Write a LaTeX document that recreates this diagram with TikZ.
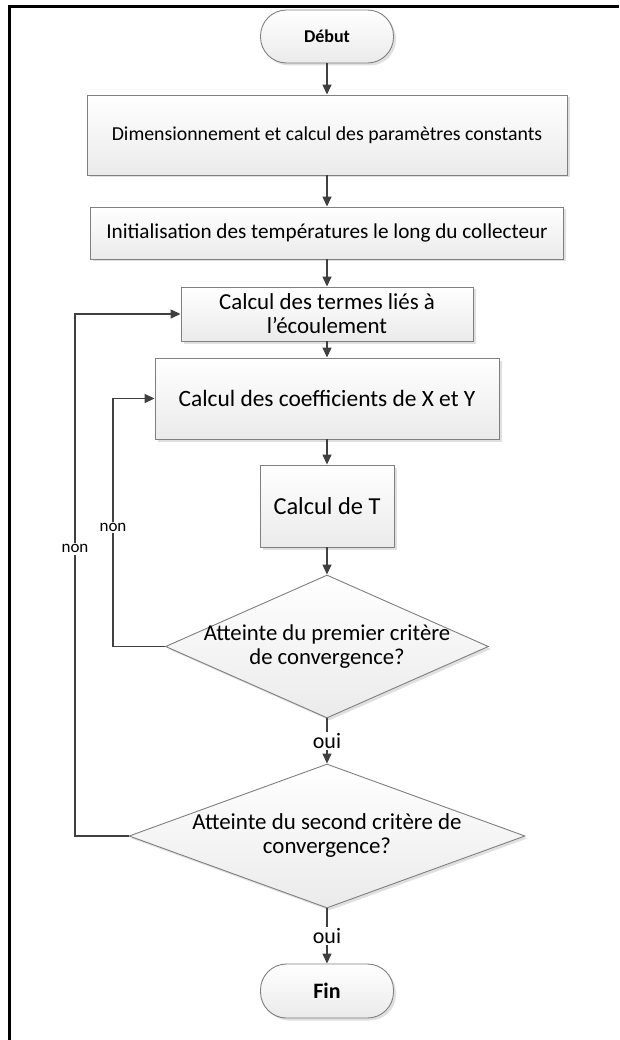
\documentclass[tikz,border=0pt]{standalone}
\usepackage{fontspec}
\setmainfont{Carlito}
\usetikzlibrary{arrows.meta,shapes.geometric,shadows}
\definecolor{lin}{HTML}{404040}
\definecolor{brd}{HTML}{7F7F7F}
\newcommand{\fsz}[1]{\fontsize{#1}{24}\selectfont}
\begin{document}
\begin{tikzpicture}[x=1pt,y=-1pt,
  base/.style={draw=brd,line width=0.9pt,top color=white,bottom color=black!8,
     drop shadow={shadow xshift=2.5pt,shadow yshift=-2.5pt,fill=black!12,opacity=1},
     align=center,inner sep=0pt},
  procbox/.style={base,rectangle},
  termbox/.style={base,rectangle,rounded corners=26pt},
  decbox/.style={base,diamond},
  dtext/.style={align=center,inner sep=0pt},
  arr/.style={draw=lin,line width=1.4pt,-{Triangle[length=10pt,width=9pt]}},
  lbl/.style={fill=white,inner sep=1.5pt}]
\useasboundingbox (0,0) rectangle (619,1040);
\draw[line width=2.5pt] (9.5,1040) -- (9.5,6.5) -- (619,6.5);
\node[termbox,minimum width=133pt,minimum height=53pt,font=\fsz{18}\bfseries] (debut) at (327,36.5) {Début};
\node[procbox,minimum width=480pt,minimum height=80pt,font=\fsz{19.8}] (b1) at (327,135) {Dimensionnement et calcul des paramètres constants};
\node[procbox,minimum width=473pt,minimum height=52pt,font=\fsz{21.2}] (b2) at (327,233) {Initialisation des températures le long du collecteur};
\node[procbox,minimum width=292pt,minimum height=54pt,font=\fsz{22.9}] (b3) at (327,314) {Calcul des termes liés à\\l'écoulement};
\node[procbox,minimum width=344pt,minimum height=81pt,font=\fsz{23.4}] (b4) at (327,398.5) {Calcul des coefficients de X et Y};
\node[procbox,minimum width=134pt,minimum height=82pt,font=\fsz{24.4}] (b5) at (327,506) {Calcul de T};
\node[decbox,minimum width=323pt,minimum height=143pt,
  label={[dtext,font=\fsz{22.7}]center:Atteinte du premier critère\\de convergence?}] (d1) at (327,646.5) {};
\node[decbox,minimum width=396pt,minimum height=144pt,
  label={[dtext,font=\fsz{22.9}]center:Atteinte du second critère de\\convergence?}] (d2) at (327,836) {};
\node[termbox,minimum width=133pt,minimum height=54pt,font=\fsz{22}\bfseries] (fin) at (327,991) {Fin};
\coordinate (lo) at (75,0);
\coordinate (li) at (113,0);
\draw[arr] (debut) -- (b1);
\draw[arr] (b1) -- (b2);
\draw[arr] (b2) -- (b3);
\draw[arr] (b3) -- (b4);
\draw[arr] (b4) -- (b5);
\draw[arr] (b5) -- (d1);
\draw[arr] (d1) -- node[lbl,pos=0.5,font=\fsz{22}]{oui} (d2);
\draw[arr] (d2) -- node[lbl,pos=0.5,font=\fsz{22}]{oui} (fin);
\draw[arr] (d1.west) -- (d1.west -| li) -- node[lbl,pos=0.48,font=\fsz{17}]{non} (li |- b4.west) -- (b4.west);
\draw[arr] (d2.west) -- (d2.west -| lo) -- node[lbl,pos=0.55,font=\fsz{17}]{non} (lo |- b3.west) -- (b3.west);
\end{tikzpicture}
\end{document}
